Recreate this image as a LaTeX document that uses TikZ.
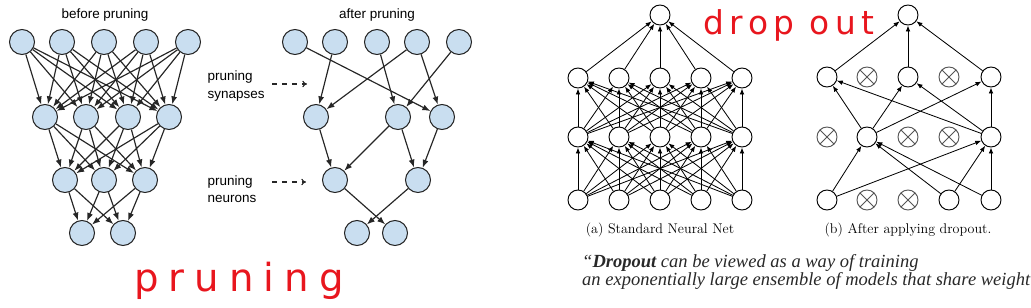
\documentclass[tikz,border=0pt]{standalone}
\usepackage{fontspec}
\usepackage{xcolor}
\usepackage{tikz}
\usetikzlibrary{arrows.meta, positioning}
\newfontfamily\labelfont{Liberation Sans}
\newfontfamily\quotefont{Liberation Serif}
\newfontfamily\handfont{DejaVu Sans}
\definecolor{neuronfill}{RGB}{201, 222, 240}
\definecolor{neuronborder}{RGB}{35, 35, 35}
\definecolor{inkred}{RGB}{232, 22, 30}
\definecolor{dropgray}{RGB}{85, 85, 85}
\definecolor{quoteink}{RGB}{40, 40, 40}
\tikzset{
  prunecell/.style={
    circle, draw=neuronborder, fill=neuronfill, line width=0.9pt,
    minimum size=0.75cm, inner sep=0pt
  },
  netcell/.style={
    circle, draw=black, fill=white, line width=0.8pt,
    minimum size=0.6cm, inner sep=0pt
  },
  dropcell/.style={
    netcell, draw=dropgray,
    path picture={
      \draw[dropgray, line width=0.8pt]
        (path picture bounding box.north west) -- (path picture bounding box.south east)
        (path picture bounding box.north east) -- (path picture bounding box.south west);
    }
  },
  titletext/.style={font=\labelfont\fontsize{11.5}{15}\selectfont, inner sep=2pt},
  captiontext/.style={font=\fontsize{12}{14}\selectfont, inner sep=1pt},
  quotetext/.style={font=\quotefont\itshape\fontsize{15.8}{14.5}\selectfont, text=quoteink, align=left, inner sep=0pt},
  handtext/.style={font=\handfont\fontsize{33}{36}\selectfont, text=inkred, inner sep=0pt},
  pruneline/.style={
    draw=black!85, -{Latex[length=2.4mm, width=1.8mm]}, line width=1pt
  },
  netline/.style={
    draw=black, -{Latex[length=1.8mm, width=1.4mm]}, line width=0.7pt
  },
  pointerline/.style={
    draw=black!85, dash pattern=on 4.5pt off 4pt, -{To[length=1.4mm, width=2mm]}, line width=0.9pt
  }
}

\begin{document}
\begin{tikzpicture}[x=0.03cm, y=-0.03cm]
  \useasboundingbox (0,0) rectangle (1031,308);

  % before pruning
  \node[titletext] (beforelabel) at (105,15) {before pruning};
  \foreach \x [count=\i] in {22,62,104,146,188}
    \node[prunecell] (bA\i) at (\x,42) {};
  \foreach \x [count=\i] in {45,86,128,169}
    \node[prunecell] (bB\i) at (\x,117) {};
  \foreach \x [count=\i] in {65,104,145}
    \node[prunecell] (bC\i) at (\x,180) {};
  \foreach \x [count=\i] in {82,123}
    \node[prunecell] (bD\i) at (\x,233) {};
  \foreach \i in {1,...,5}
    \foreach \j in {1,...,4}
      \draw[pruneline] (bA\i) -- (bB\j);
  \foreach \i in {1,...,4}
    \foreach \j in {1,...,3}
      \draw[pruneline] (bB\i) -- (bC\j);
  \foreach \i in {1,...,3}
    \foreach \j in {1,2}
      \draw[pruneline] (bC\i) -- (bD\j);

  % after pruning
  \node[titletext] (afterlabel) at (377,15) {after pruning};
  \foreach \x [count=\i] in {295,335,377,417,459}
    \node[prunecell] (aA\i) at (\x,42) {};
  \foreach \x [count=\i] in {316,398,442}
    \node[prunecell] (aB\i) at (\x,117) {};
  \foreach \x [count=\i] in {335,418}
    \node[prunecell] (aC\i) at (\x,180) {};
  \foreach \x [count=\i] in {357,395}
    \node[prunecell] (aD\i) at (\x,233) {};
  \draw[pruneline] (aA1) -- (aB3);
  \draw[pruneline] (aA2) -- (aB1);
  \draw[pruneline] (aA3) -- (aB2);
  \draw[pruneline] (aA4) -- (aB1);
  \draw[pruneline] (aA4) -- (aB3);
  \draw[pruneline] (aA5) -- (aB2);
  \draw[pruneline] (aB1) -- (aC1);
  \draw[pruneline] (aB2) -- (aC1);
  \draw[pruneline] (aB2) -- (aC2);
  \draw[pruneline] (aB3) -- (aC2);
  \draw[pruneline] (aC1) -- (aD2);
  \draw[pruneline] (aC2) -- (aD1);

  \node[titletext, anchor=west, align=left] (synlabel) at (205,86) {pruning\\synapses};
  \node[titletext, anchor=west, align=left] (neulabel) at (205,189) {pruning\\neurons};
  \coordinate (synstart) at (272,84);
  \coordinate (synpoint) at (307,84);
  \coordinate (neustart) at (272,182);
  \coordinate (neupoint) at (306,182);
  \draw[pointerline] (synstart) -- (synpoint);
  \draw[pointerline] (neustart) -- (neupoint);

  \node[handtext, font=\handfont\addfontfeature{LetterSpace=26}\fontsize{33}{36}\selectfont] (prunehand) at (239,281) {pruning};

  % standard neural net
  \node[netcell] (sOut) at (660,15) {};
  \foreach \x [count=\i] in {578,619,660,701,742} {
    \node[netcell] (sHb\i) at (\x,78) {};
    \node[netcell] (sHa\i) at (\x,137) {};
    \node[netcell] (sIn\i) at (\x,200) {};
  }
  \foreach \i in {1,...,5} {
    \draw[netline] (sHb\i) -- (sOut);
    \foreach \j in {1,...,5} {
      \draw[netline] (sIn\i) -- (sHa\j);
      \draw[netline] (sHa\i) -- (sHb\j);
    }
  }
  \node[captiontext] (stdcaption) at (660,230) {(a) Standard Neural Net};

  % after dropout
  \node[netcell] (dOut) at (908,15) {};
  \node[netcell] (dHb1) at (827,77) {};
  \node[dropcell] (dHb2) at (867,77) {};
  \node[netcell] (dHb3) at (908,77) {};
  \node[dropcell] (dHb4) at (949,77) {};
  \node[netcell] (dHb5) at (991,77) {};
  \node[dropcell] (dHa1) at (827,137) {};
  \node[netcell] (dHa2) at (867,137) {};
  \node[dropcell] (dHa3) at (908,137) {};
  \node[dropcell] (dHa4) at (949,137) {};
  \node[netcell] (dHa5) at (991,137) {};
  \node[netcell] (dIn1) at (827,200) {};
  \node[dropcell] (dIn2) at (867,200) {};
  \node[dropcell] (dIn3) at (908,200) {};
  \node[netcell] (dIn4) at (949,200) {};
  \node[netcell] (dIn5) at (991,200) {};
  \foreach \i in {1,3,5}
    \draw[netline] (dHb\i) -- (dOut);
  \foreach \i in {2,5}
    \foreach \j in {1,3,5}
      \draw[netline] (dHa\i) -- (dHb\j);
  \foreach \i in {1,4,5}
    \foreach \j in {2,5}
      \draw[netline] (dIn\i) -- (dHa\j);
  \node[captiontext] (dropcaption) at (908,230) {(b) After applying dropout.};

  \node[handtext, font=\handfont\addfontfeature{LetterSpace=16}\fontsize{28}{32}\selectfont] (drophand) at (789,25) {drop out};

  \node[quotetext, anchor=west] (quote) at (582,272) {“\textbf{Dropout} can be viewed as a way of training\\an exponentially large ensemble of models that share weight};
\end{tikzpicture}
\end{document}
